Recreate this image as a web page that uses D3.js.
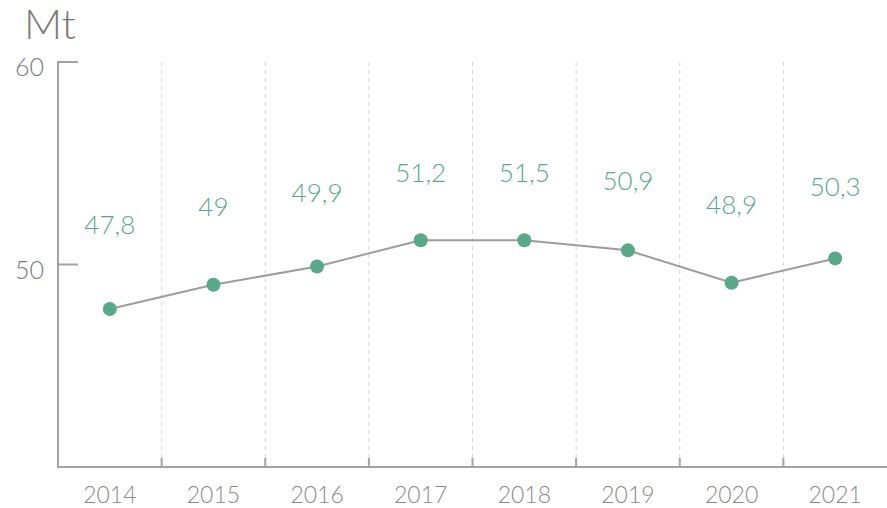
<!DOCTYPE html>
<html lang="en">
<head>
    <meta charset="UTF-8">
    <title>Mt per year</title>
    <script src="https://d3js.org/d3.v7.min.js"></script>
    <style>
        body { margin: 0; background: #fff; }
        svg { display: block; font-family: Lato, "Open Sans", sans-serif; font-weight: 300; }
        .grid line { stroke: #d6d6d6; stroke-width: 1px; stroke-dasharray: 4 4; }
        .axis path, .axis line { stroke: #a3a3a3; stroke-width: 2px; }
        .axis text { fill: #8a8a8a; }
        .value-label { fill: #5aa888; font-size: 26px; }
    </style>
</head>
<body>
    <svg width="887" height="508"></svg>
    <script>
        const years = ["2014", "2015", "2016", "2017", "2018", "2019", "2020", "2021"];
        // plotted positions as drawn in the source
        const values = [47.8, 49.0, 49.9, 51.2, 51.2, 50.7, 49.1, 50.3];
        // printed labels (the source prints a few that differ from the points)
        const labels = ["47,8", "49", "49,9", "51,2", "51,5", "50,9", "48,9", "50,3"];
        const yTicks = [50, 60];

        const svg = d3.select("svg");
        const plotLeft = 58, plotRight = 887, plotTop = 62, plotBottom = 467;

        const x = d3.scaleBand().domain(years).range([plotLeft, plotRight]);
        const y = d3.scaleLinear().domain([40, 60]).range([plotBottom, plotTop]);
        // labels sit higher than the points, on a compressed scale
        const yLabel = d3.scaleLinear().domain([40, 60]).range([344, 38]);

        // dashed band separators
        const bounds = years.slice(1).map(d => x(d));
        svg.append("g").attr("class", "grid")
            .selectAll("line").data(bounds).enter().append("line")
            .attr("x1", d => d).attr("x2", d => d)
            .attr("y1", plotTop).attr("y2", plotBottom - 9);

        // x axis
        const xAxis = svg.append("g").attr("class", "axis");
        xAxis.append("line")
            .attr("x1", plotLeft).attr("x2", plotRight)
            .attr("y1", plotBottom).attr("y2", plotBottom);
        xAxis.selectAll(".tick").data(bounds).enter().append("line")
            .attr("class", "tick")
            .attr("x1", d => d).attr("x2", d => d)
            .attr("y1", plotBottom - 9).attr("y2", plotBottom);
        xAxis.selectAll("text").data(years).enter().append("text")
            .attr("x", d => x(d) + x.bandwidth() / 2)
            .attr("y", 503)
            .attr("text-anchor", "middle")
            .style("font-size", "23px")
            .text(d => d);

        // y axis
        const yAxis = svg.append("g").attr("class", "axis");
        yAxis.append("line")
            .attr("x1", plotLeft).attr("x2", plotLeft)
            .attr("y1", plotTop - 1).attr("y2", plotBottom + 1);
        yAxis.selectAll(".tick").data(yTicks).enter().append("line")
            .attr("class", "tick")
            .attr("x1", plotLeft).attr("x2", plotLeft + 20)
            .attr("y1", d => y(d)).attr("y2", d => y(d));
        yAxis.selectAll("text").data(yTicks).enter().append("text")
            .attr("x", 44)
            .attr("y", d => y(d) + 14)
            .attr("text-anchor", "end")
            .style("font-size", "25px")
            .style("fill", "#7a7a7a")
            .text(d => d);

        svg.append("text")
            .attr("x", 24).attr("y", 39)
            .style("font-size", "42px")
            .style("fill", "#7a7a7a")
            .text("Mt");

        const cx = (d, i) => x(years[i]) + x.bandwidth() / 2;

        const line = d3.line()
            .x((d, i) => cx(d, i))
            .y(d => y(d));

        svg.append("path")
            .datum(values)
            .attr("d", line)
            .attr("fill", "none")
            .attr("stroke", "#9d9d9d")
            .attr("stroke-width", 2);

        svg.append("g")
            .selectAll("circle").data(values).enter().append("circle")
            .attr("cx", cx)
            .attr("cy", d => y(d))
            .attr("r", 7)
            .attr("fill", "#5aa888");

        svg.append("g")
            .selectAll("text").data(values).enter().append("text")
            .attr("class", "value-label")
            .attr("x", cx)
            .attr("y", d => yLabel(d))
            .attr("dy", "0.36em")
            .attr("text-anchor", "middle")
            .text((d, i) => labels[i]);
    </script>
</body>
</html>
